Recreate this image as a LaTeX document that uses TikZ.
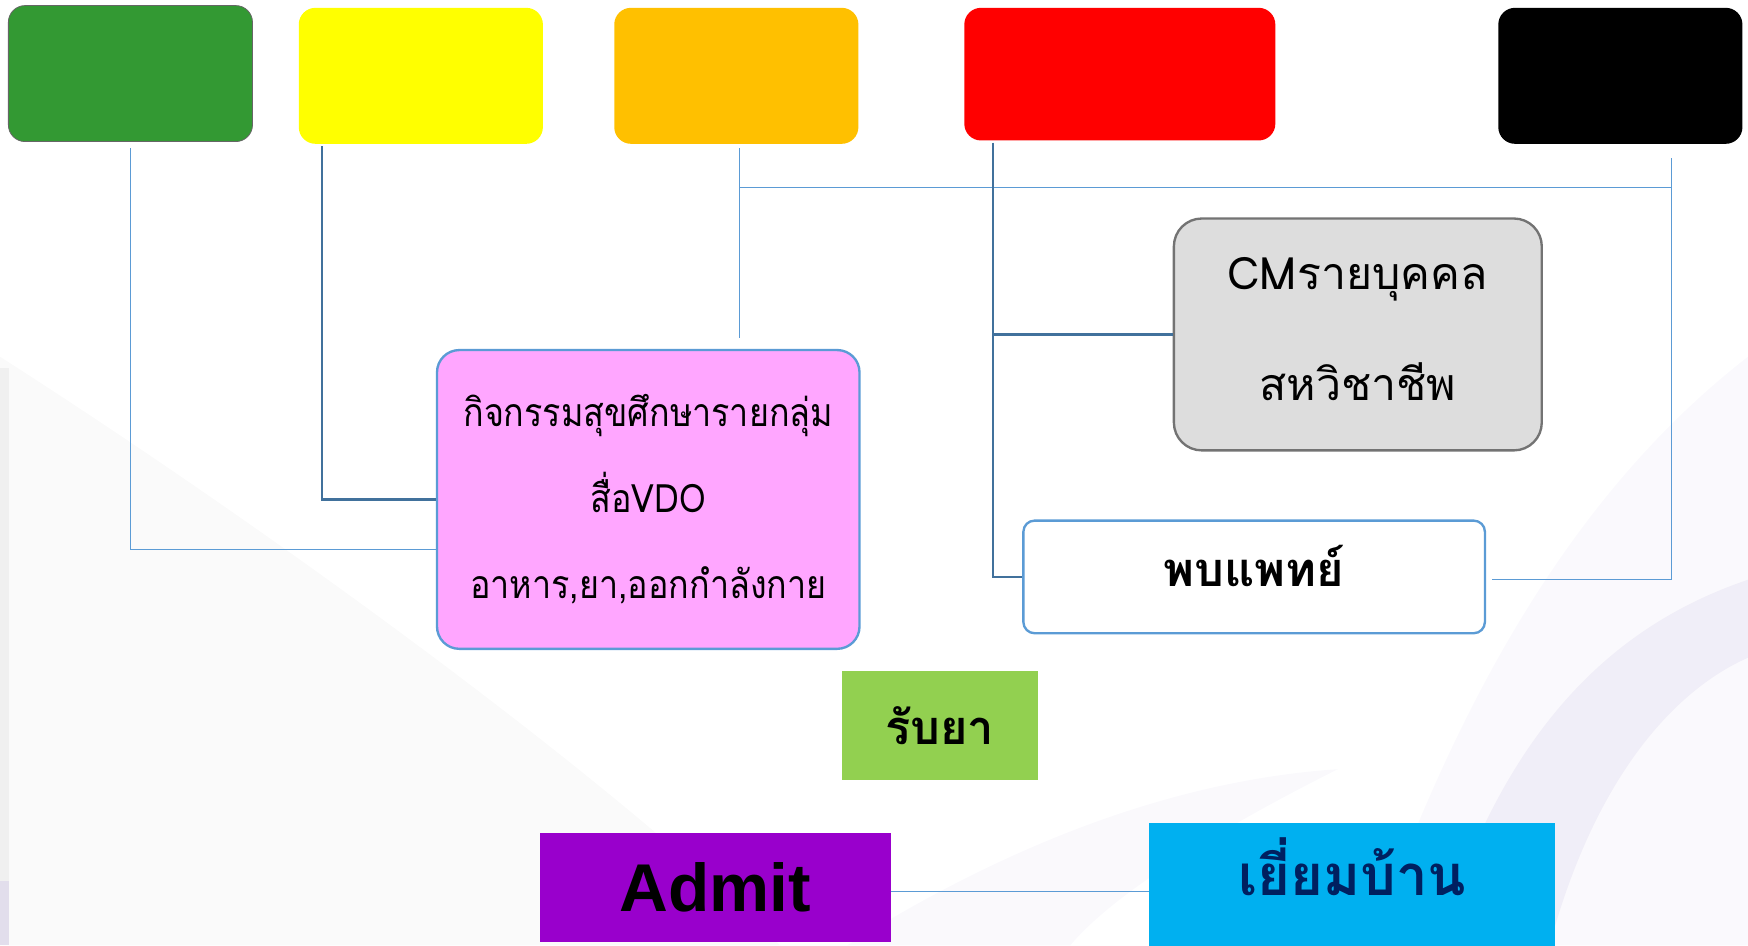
\documentclass[tikz,border=0pt]{standalone}
\usepackage{fontspec}
\setmainfont{Liberation Sans}
\newfontfamily\thai[Script=Thai]{Loma}
\newfontfamily\thainarrow[Script=Thai, FakeStretch=0.87]{Loma}
\tikzset{>=stealth}

\definecolor{cgreen}{HTML}{339933}
\definecolor{cyellow}{HTML}{FFFF00}
\definecolor{corange}{HTML}{FFC000}
\definecolor{cred}{HTML}{FF0000}
\definecolor{lineL}{HTML}{5B9BD5}
\definecolor{lineD}{HTML}{41719C}
\definecolor{cpink}{HTML}{FFA6FF}
\definecolor{cgrey}{HTML}{DDDDDD}
\definecolor{cdrug}{HTML}{92D050}
\definecolor{cadmit}{HTML}{9900CC}
\definecolor{cvisit}{HTML}{00B0F0}
\definecolor{cnavy}{HTML}{002060}
\definecolor{swoosh}{HTML}{B9AEDC}

\tikzset{
  topbox/.style={minimum width=43.8mm, minimum height=24.4mm, rounded corners=3mm, inner sep=0pt},
  flatbox/.style={inner sep=0pt, align=center},
  thinln/.style={draw=lineL, line width=0.6pt},
  thickln/.style={draw=lineD, line width=1.2pt}
}

\begin{document}
\begin{tikzpicture}[x=0.2mm, y=-0.2mm]
    \clip (0,0) rectangle (1568,848);
    % background haze
    \fill[black!2] (0,320) .. controls (250,480) and (550,700) .. (700,848) -- (0,848) -- cycle;
    \fill[black!6] (0,330) rectangle (8,848);
    \fill[swoosh!60, opacity=.5] (0,790) rectangle (8,848);
    \fill[swoosh, opacity=.07] (1568,320) .. controls (1400,450) and (1300,650) .. (1230,848) -- (1568,848) -- cycle;
    \fill[swoosh, opacity=.15] (1568,520) .. controls (1450,560) and (1350,650) .. (1290,848) -- (1390,848) .. controls (1430,700) and (1500,620) .. (1568,590) -- cycle;
    \fill[swoosh, opacity=.08] (760,848) .. controls (900,760) and (1050,700) .. (1200,690) .. controls (1100,740) and (1000,800) .. (960,848) -- cycle;

    % top row
    \node[topbox, fill=cgreen, draw=black!60] (green) at (117,66) {};
    \node[topbox, fill=cyellow] (yellow) at (377.5,68) {};
    \node[topbox, fill=corange] (orange) at (660.5,68) {};
    \node[topbox, fill=cred, minimum width=55.8mm, minimum height=23.8mm] (red) at (1004.5,66.5) {};
    \node[topbox, fill=black] (black) at (1453.5,68) {};

    % activities
    \node[flatbox, fill=cpink, draw=lineL, line width=1.2pt, rounded corners=4mm,
          minimum width=75.8mm, minimum height=53.6mm,
          font=\thainarrow\fontsize{20}{44}\selectfont] (group) at (581.5,448)
          {กิจกรรมสุขศึกษารายกลุ่ม\\สื่อVDO\\อาหาร,ยา,ออกกำลังกาย};
    \node[flatbox, fill=cgrey, draw=black!55, line width=1.2pt, rounded corners=5mm,
          minimum width=66mm, minimum height=41.6mm,
          font=\thai\fontsize{22.8}{57}\selectfont] (cm) at (1218,300)
          {\raisebox{2mm}{CMรายบุคคล}\\\raisebox{2mm}{สหวิชาชีพ}};
    \node[flatbox, fill=white, draw=lineL, line width=1.2pt, rounded corners=2mm,
          minimum width=82.8mm, minimum height=20.2mm,
          font=\thai\bfseries\fontsize{24}{28}\selectfont] (doctor) at (1125,517.5) {\raisebox{4mm}{พบแพทย์}};
    \node[flatbox, fill=cdrug, minimum width=35.2mm, minimum height=19.6mm,
          font=\thai\bfseries\fontsize{24}{28}\selectfont] (drug) at (843,651) {รับยา};
    \node[flatbox, fill=cadmit, minimum width=63mm, minimum height=19.6mm,
          font=\bfseries\fontsize{34.5}{36}\selectfont] (admit) at (641.5,796) {Admit};
    \node[flatbox, fill=cvisit, text=cnavy, minimum width=72.8mm, minimum height=22.8mm,
          font=\thai\bfseries\fontsize{28.7}{34}\selectfont] (visit) at (1213,795) {\raisebox{7.2mm}{เยี่ยมบ้าน}};

    % connectors
    \coordinate (gtap) at (117,133);
    \coordinate (ytap) at (289,131);
    \coordinate (otap) at (663,133);
    \coordinate (oend) at (663,303);
    \coordinate (rtap) at (891,128);
    \coordinate (btap) at (1499,142);
    \coordinate (bend) at (1338,520);
    \draw[thinln] (gtap) |- ([yshift=-9mm]group.west);
    \draw[thickln] (ytap) |- (group.west);
    \draw[thinln] (otap) -- (oend);
    \draw[thinln] (otap |- 0,168) -- (btap |- 0,168);
    \draw[thinln] (btap) |- (bend);
    \draw[thickln] (rtap) |- (doctor.west);
    \draw[thickln] (rtap |- cm.west) -- (cm.west);
    \draw[thinln] ([yshift=-0.8mm]admit.east) -- ([yshift=-0.8mm]visit.west |- admit.east);
\end{tikzpicture}
\end{document}
